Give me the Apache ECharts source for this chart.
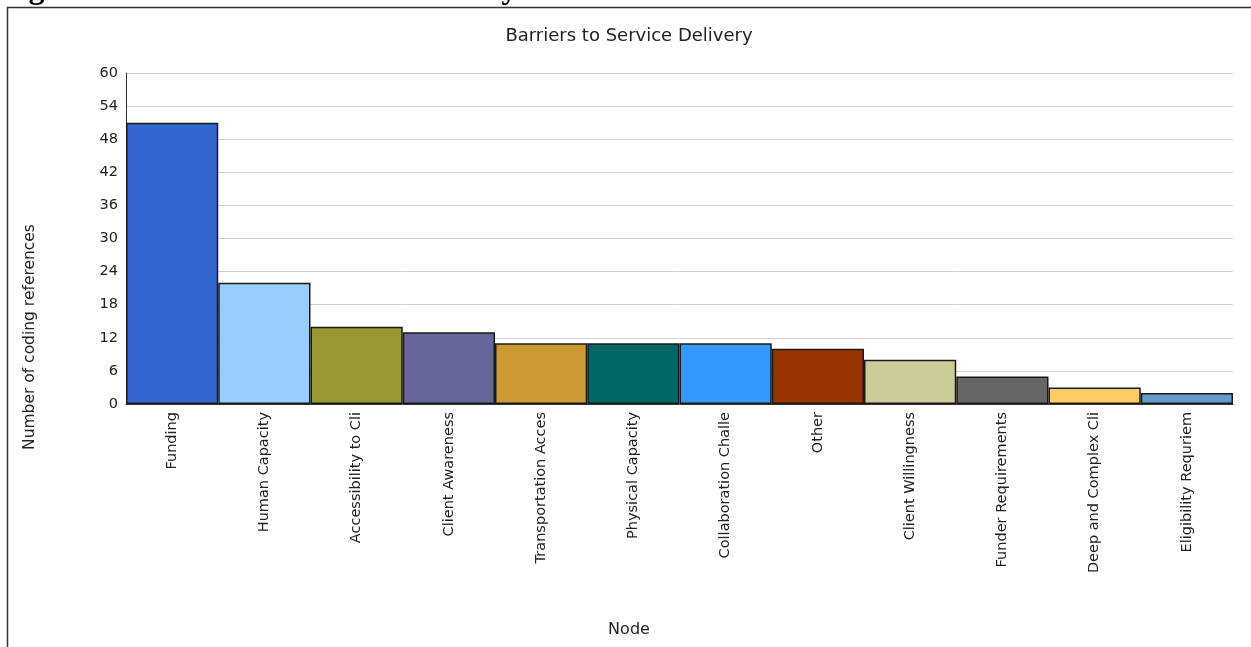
<!DOCTYPE html>
<html>
<head>
<meta charset="utf-8">
<title>Barriers to Service Delivery</title>
<script src="https://cdn.jsdelivr.net/npm/echarts@6/dist/echarts.min.js"></script>
<style>
  html, body { margin: 0; padding: 0; background: #fff; }
  #chart { width: 1251px; height: 647px; }
</style>
</head>
<body>
<div id="chart"></div>
<script>
// Coded barrier nodes and how many references each received
const categories = [
  'Funding', 'Human Capacity', 'Accessibility to Cli', 'Client Awareness',
  'Transportation Acces', 'Physical Capacity', 'Collaboration Challe', 'Other',
  'Client Willingness', 'Funder Requirements', 'Deep and Complex Cli', 'Eligibility Requriem'
];
const references = [51, 22, 14, 13, 11, 11, 11, 10, 8, 5, 3, 2];
const barColors = [
  '#3366CC', '#99CCFF', '#999933', '#666699', '#CC9933', '#006666',
  '#3399FF', '#993300', '#CCCC99', '#666666', '#FFCC66', '#6699CC'
];
const yTicks = { min: 0, max: 60, step: 6 };

const chart = echarts.init(document.getElementById('chart'), null, { renderer: 'canvas' });
const sans = '"DejaVu Sans", Verdana, sans-serif';

chart.setOption({
  animation: false,
  backgroundColor: '#fff',
  grid: { left: 126, right: 18, top: 73, bottom: 243, containLabel: false },
  xAxis: {
    type: 'category',
    data: categories,
    axisLine: { lineStyle: { color: '#333', width: 1 } },
    axisTick: { show: false },
    axisLabel: {
      rotate: 90, interval: 0, margin: 8,
      fontFamily: sans, fontSize: 14.5, color: '#222'
    }
  },
  yAxis: {
    type: 'value',
    min: yTicks.min, max: yTicks.max, interval: yTicks.step,
    axisLine: { show: true, lineStyle: { color: '#333', width: 1 } },
    axisTick: { show: false },
    axisLabel: { margin: 8, fontFamily: sans, fontSize: 14.5, color: '#222' },
    splitLine: { lineStyle: { color: '#cfcfcf', width: 1 } }
  },
  series: [{
    type: 'bar',
    barCategoryGap: '0%',
    data: references.map((v, i) => ({
      value: v,
      itemStyle: { color: barColors[i], borderColor: '#1a1a1a', borderWidth: 1.5 }
    }))
  }],
  graphic: [
    {
      type: 'rect', silent: true, z: 100,
      shape: { x: 7.5, y: 7.5, width: 1300, height: 700 },
      style: { fill: 'none', stroke: '#333', lineWidth: 1.5 }
    },
    {
      type: 'text', silent: true, z: 100,
      left: 0, top: -26,
      style: {
        text: 'Figure 11: Barriers to service delivery',
        font: 'bold 32px "Liberation Serif", "Times New Roman", serif',
        fill: '#000'
      }
    },
    {
      // chart title
      type: 'text', silent: true, z: 100,
      x: 629, y: 36,
      style: {
        text: 'Barriers to Service Delivery',
        font: '18px ' + sans, fill: '#222',
        align: 'center', verticalAlign: 'middle'
      }
    },
    {
      // y-axis title, centred on the full chart height
      type: 'text', silent: true, z: 100,
      x: 30, y: 337, rotation: Math.PI / 2,
      style: {
        text: 'Number of coding references',
        font: '15.5px ' + sans, fill: '#222',
        align: 'center', verticalAlign: 'middle'
      }
    },
    {
      // x-axis title
      type: 'text', silent: true, z: 100,
      x: 629, y: 630,
      style: {
        text: 'Node',
        font: '16px ' + sans, fill: '#222',
        align: 'center', verticalAlign: 'middle'
      }
    }
  ]
});
</script>
</body>
</html>
